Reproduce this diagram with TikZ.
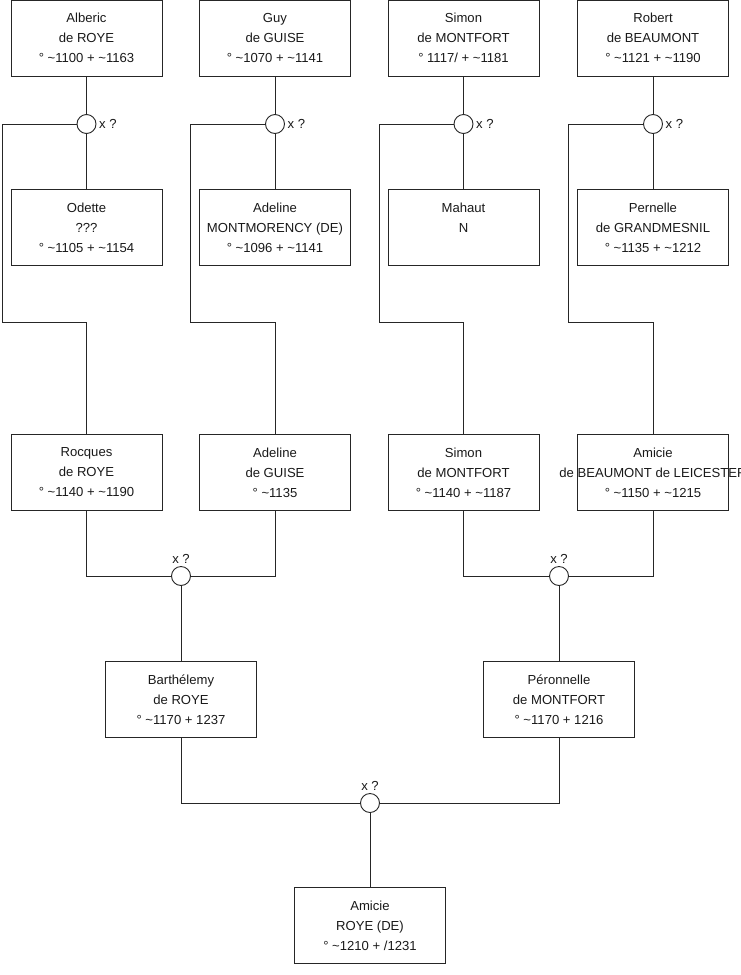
\documentclass[tikz,border=0pt]{standalone}
\usepackage{fontspec}
\setmainfont{Liberation Sans}
\usepackage{tikz}
\usetikzlibrary{positioning}

\begin{document}
\begin{tikzpicture}[
    x=1pt, y=-1pt,
    pbox/.style={draw=black!85, line width=0.9pt, minimum width=151pt, minimum height=76pt,
      align=center, inner sep=0pt, text=black!90, font=\fontsize{13.1}{20}\selectfont},
    wed/.style={circle, draw=black!85, line width=0.9pt, fill=white, minimum size=19pt, inner sep=0pt},
    lnk/.style={line width=0.9pt, black!85},
    lbl/.style={font=\fontsize{13.1}{15}\selectfont, text=black!90, inner sep=2.5pt},
]
\useasboundingbox (0,0) rectangle (740,975);
\clip (0,0) rectangle (740,975);
\node[pbox] (alberic) at (86.5, 38) {Alberic\\de ROYE\\° \textasciitilde1100 + \textasciitilde1163};
\node[pbox] (guy) at (275, 38) {Guy\\de GUISE\\° \textasciitilde1070 + \textasciitilde1141};
\node[pbox] (simonA) at (463.5, 38) {Simon\\de MONTFORT\\° 1117/ + \textasciitilde1181};
\node[pbox] (robert) at (653, 38) {Robert\\de BEAUMONT\\° \textasciitilde1121 + \textasciitilde1190};
\node[wed] (m1) at (86.5, 124) {};
\node[wed] (m2) at (275, 124) {};
\node[wed] (m3) at (463.5, 124) {};
\node[wed] (m4) at (653, 124) {};
\node[lbl, right=0pt of m1] (x1) {x ?};
\node[lbl, right=0pt of m2] (x2) {x ?};
\node[lbl, right=0pt of m3] (x3) {x ?};
\node[lbl, right=0pt of m4] (x4) {x ?};
\node[pbox] (odette) at (86.5, 227.5) {Odette\\???\\° \textasciitilde1105 + \textasciitilde1154};
\node[pbox] (adelineM) at (275, 227.5) {Adeline\\MONTMORENCY (DE)\\° \textasciitilde1096 + \textasciitilde1141};
\node[pbox] (mahaut) at (463.5, 227.5) {Mahaut\\N\\\mbox{}};
\node[pbox] (pernelle) at (653, 227.5) {Pernelle\\de GRANDMESNIL\\° \textasciitilde1135 + \textasciitilde1212};
\node[pbox] (rocques) at (86.5, 472.5) {Rocques\\de ROYE\\° \textasciitilde1140 + \textasciitilde1190};
\node[pbox] (adelineG) at (275, 472.5) {Adeline\\de GUISE\\° \textasciitilde1135};
\node[pbox] (simonB) at (463.5, 472.5) {Simon\\de MONTFORT\\° \textasciitilde1140 + \textasciitilde1187};
\node[pbox] (amicieB) at (653, 472.5) {Amicie\\\makebox[0pt]{de BEAUMONT de LEICESTER}\\° \textasciitilde1150 + \textasciitilde1215};
\coordinate (t1) at (2, 322);
\coordinate (t2) at (190, 322);
\coordinate (t3) at (379, 322);
\coordinate (t4) at (568, 322);
\node[wed] (m5) at (181, 576) {};
\node[wed] (m6) at (559, 576) {};
\node[lbl, above=0pt of m5] (x5) {x ?};
\node[lbl, above=0pt of m6] (x6) {x ?};
\node[pbox] (barth) at (181, 699.5) {Barthélemy\\de ROYE\\° \textasciitilde1170 + 1237};
\node[pbox] (peronnelle) at (559, 699.5) {Péronnelle\\de MONTFORT\\° \textasciitilde1170 + 1216};
\node[wed] (m7) at (370, 803) {};
\node[lbl, above=0pt of m7] (x7) {x ?};
\node[pbox] (amicie) at (370, 925.5) {Amicie\\ROYE (DE)\\° \textasciitilde1210 + /1231};
\draw[lnk] (alberic) -- (m1) -- (odette);
\draw[lnk] (guy) -- (m2) -- (adelineM);
\draw[lnk] (simonA) -- (m3) -- (mahaut);
\draw[lnk] (robert) -- (m4) -- (pernelle);
\draw[lnk] (m1.west) -| (t1) -| (rocques.north);
\draw[lnk] (m2.west) -| (t2) -| (adelineG.north);
\draw[lnk] (m3.west) -| (t3) -| (simonB.north);
\draw[lnk] (m4.west) -| (t4) -| (amicieB.north);
\draw[lnk] (rocques.south) |- (m5.west);
\draw[lnk] (adelineG.south) |- (m5.east);
\draw[lnk] (simonB.south) |- (m6.west);
\draw[lnk] (amicieB.south) |- (m6.east);
\draw[lnk] (m5) -- (barth);
\draw[lnk] (m6) -- (peronnelle);
\draw[lnk] (barth.south) |- (m7.west);
\draw[lnk] (peronnelle.south) |- (m7.east);
\draw[lnk] (m7) -- (amicie);
\end{tikzpicture}
\end{document}
